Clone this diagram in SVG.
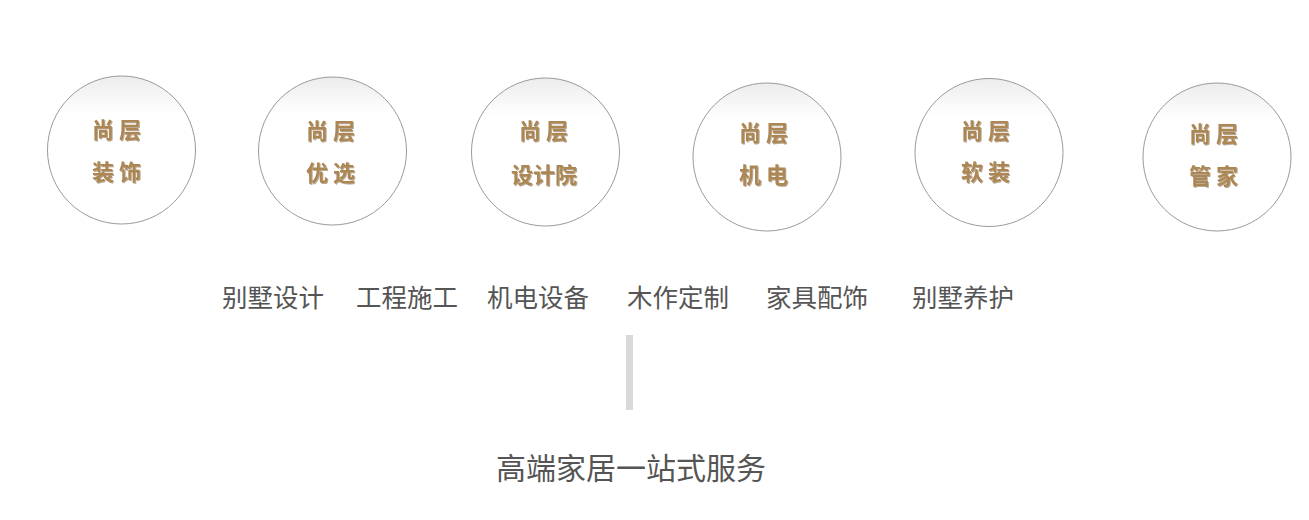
<svg xmlns="http://www.w3.org/2000/svg" width="1309" height="520" viewBox="0 0 1309 520">
<defs>
<linearGradient id="cg" x1="0" y1="0" x2="0" y2="1">
<stop offset="0" stop-color="#ececec"/>
<stop offset="0.25" stop-color="#ffffff"/>
<stop offset="1" stop-color="#ffffff"/>
</linearGradient>
<filter id="sh" x="-20%" y="-20%" width="140%" height="140%">
<feDropShadow dx="1" dy="1" stdDeviation="0.4" flood-color="#6e5330" flood-opacity="0.5"/>
</filter>
<style>
.c{fill:url(#cg);stroke:#9a9a9a;stroke-width:1}
.g{font-family:"Noto Sans CJK SC","Noto Sans CJK JP",sans-serif;font-size:22px;font-weight:700;fill:#ad8752;filter:url(#sh)}
.s{letter-spacing:5px}
.t{font-family:"Noto Sans CJK SC","Noto Sans CJK JP",sans-serif;font-size:25.5px;fill:#555555}
.h{font-family:"Noto Sans CJK SC","Noto Sans CJK JP",sans-serif;font-size:30px;fill:#555555}
</style>
</defs>
<rect width="1309" height="520" fill="#ffffff"/>
<g id="node-zhuangshi">
<circle class="c" cx="121.5" cy="150" r="74"/>
<text class="g s" x="92" y="138">尚层</text>
<text class="g s" x="92" y="179.5">装饰</text>
</g>
<g id="node-youxuan">
<circle class="c" cx="332.5" cy="151" r="74"/>
<text class="g s" x="306" y="138.5">尚层</text>
<text class="g s" x="306" y="180.5">优选</text>
</g>
<g id="node-shejiyuan">
<circle class="c" cx="545.5" cy="152" r="74"/>
<text class="g s" x="519" y="138.5">尚层</text>
<text class="g" x="511" y="182.5">设计院</text>
</g>
<g id="node-jidian">
<circle class="c" cx="767" cy="157" r="74"/>
<text class="g s" x="739" y="140.5">尚层</text>
<text class="g s" x="739" y="182.5">机电</text>
</g>
<g id="node-ruanzhuang">
<circle class="c" cx="989" cy="152.5" r="74"/>
<text class="g s" x="961" y="138.5">尚层</text>
<text class="g s" x="961" y="179.5">软装</text>
</g>
<g id="node-guanjia">
<circle class="c" cx="1217" cy="157" r="74"/>
<text class="g s" x="1189" y="141.5">尚层</text>
<text class="g s" x="1189" y="183.5">管家</text>
</g>
<g id="services">
<text class="t" x="222" y="306.5">别墅设计</text>
<text class="t" x="356" y="306.5">工程施工</text>
<text class="t" x="487" y="306.5">机电设备</text>
<text class="t" x="627" y="306.5">木作定制</text>
<text class="t" x="766" y="306.5">家具配饰</text>
<text class="t" x="912" y="306.5">别墅养护</text>
</g>
<g id="connectors">
<rect x="626" y="335" width="7" height="75" fill="#d9d9d9"/>
</g>
<g id="title">
<text class="h" x="496" y="479">高端家居一站式服务</text>
</g>
</svg>
